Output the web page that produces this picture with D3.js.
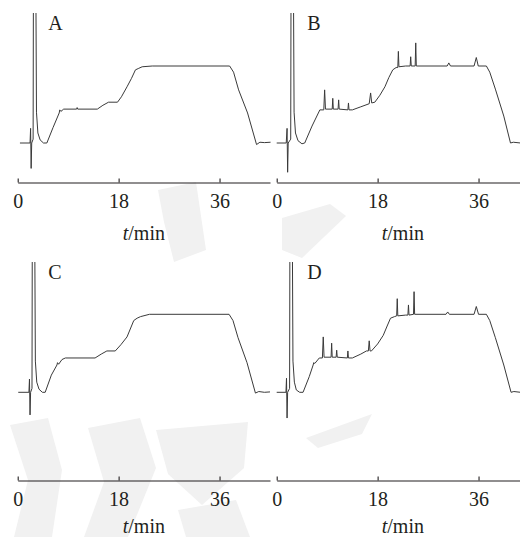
<!DOCTYPE html>
<html>
<head>
<meta charset="utf-8">
<script src="https://cdn.jsdelivr.net/npm/d3@7"></script>
<style>
  body { margin: 0; background: #fff; }
  svg { display: block; }
  text { font-family: "Liberation Serif", "Times New Roman", serif; fill: #231f20; }
  .trace { fill: none; stroke: #3a3a3a; stroke-width: 1; stroke-linejoin: round; }
  .axis path, .axis line { stroke: #231f20; stroke-width: 1.1; }
  .wm { fill: #f1f1f1; stroke: none; }
</style>
</head>
<body>
<div id="chart"></div>
<script>
// DATA  (time in min, signal in relative units: baseline = 0, high plateau = 100)
timeTicks = [0, 18, 36];
panelNames = ["A", "B", "C", "D"];

traceA = [[0.4,0],[2.2,0],[2.3,19],[2.4,-33],[2.5,0],[2.75,5],[2.82,260],[3.2,260],[3.35,40],[3.6,13],[4.0,4],[4.6,0],[5.2,0],
  [6.3,20],[7.4,39],[7.5,43],[7.7,41],[8.2,44],[10.5,44],[10.6,46],[10.7,44],[14.2,44],[15.2,49],[16.2,53],[17.8,53],
  [18.5,60],[19.5,73],[20.3,84],[21.0,95],[21.6,97],[22.2,99],[24,100],[37.8,100],[38.5,92],[39.4,69],[41,39],[42.6,-2],
  [43.2,1],[44,0.5],[45.1,1]];

traceB = [[0,0],[1.7,0],[1.85,19],[1.95,-38],[2.05,0],[2.5,5],[2.57,260],[2.95,260],[3.1,40],[3.35,13],[3.8,3],[4.5,-1],[5.0,0],
  [6.3,22],[7.7,43],[8.4,43],[8.55,69],[8.7,44],[9.9,44],[10.0,58],[10.1,44],[10.95,44],[11.05,56],[11.15,44],[12.7,43],
  [12.8,52],[12.9,43],[13.5,43],[15.0,47],[16.5,51],[16.75,65],[16.95,52],[17.5,53],[18.4,62],[19.3,73],[20.0,85],[20.7,95],
  [21.3,98],[21.6,98],[21.7,119],[21.8,99],[23.0,100],[23.8,100],[23.9,112],[24.0,100],[24.7,100],[24.8,130],[24.9,100],
  [30.4,100],[30.7,104],[31.0,100],[35.2,100],[35.6,111],[35.95,100],[37.4,100],[38.0,92],[39.0,70],[40.5,35],[41.7,0],
  [42.2,1],[43.5,0]];

traceC = [[0.1,0],[2.0,0],[2.1,17],[2.2,-29],[2.3,0],[2.55,5],[2.62,260],[3.0,260],[3.15,40],[3.4,13],[3.8,4],[4.4,0],[4.9,0],
  [6.0,22],[7.0,35],[7.1,38],[7.3,36],[7.9,42],[8.5,44],[13.8,44],[14.9,49],[15.9,53],[17.4,53],[18.4,61],[19.5,71],
  [20.7,92],[21.3,95],[21.9,97],[23.5,100],[37.7,100],[38.4,92],[39.3,70],[40.9,38],[42.4,-1],[43,1],[44,0],[45,0.5]];

traceD = [[0,0],[1.65,0],[1.75,18],[1.85,-33],[1.95,0],[2.3,5],[2.37,260],[2.75,260],[2.9,40],[3.15,13],[3.5,3],[4.1,0],[4.7,0],
  [5.8,20],[6.5,35],[6.6,38],[6.8,37],[7.6,44],[8.15,44],[8.3,71],[8.45,45],[9.7,45],[9.8,63],[9.9,45],[10.6,45],[10.7,54],
  [10.8,45],[12.6,44],[12.7,53],[12.8,44],[13.5,44],[15.0,49],[16.0,53],[16.35,53],[16.5,66],[16.65,53],[16.9,53],[18.0,62],
  [19.0,73],[19.7,85],[20.3,95],[21.0,97],[21.4,98],[21.5,120],[21.6,98],[23.0,99],[23.4,99],[23.5,112],[23.6,99],[24.4,100],
  [24.5,129],[24.6,100],[30.2,100],[30.5,103],[30.8,100],[35.2,100],[35.6,110],[36.0,100],[37.4,100],[38.0,92],[39.0,70],
  [40.5,35],[41.8,0],[42.3,1],[43.5,0]];

traces = [traceA, traceB, traceC, traceD];

// LAYOUT
W = 520; H = 537;
cols = [17.7, 276.7];               // x of t = 0
axisLen = 252.3;                    // 0..45 min
rows = [
  {top: 13,  plateau: 66,    base: 143,   axis: 182.5, title: 240},
  {top: 262, plateau: 314.3, base: 392.3, axis: 480.5, title: 533}
];

svg = d3.select("#chart").append("svg")
    .attr("width", W)
    .attr("height", H);

defs = svg.append("defs");

// FAINT BACKGROUND WATERMARK (decoration only)
wmShapes = [
  "M10,425 L48,418 L62,470 L52,537 L14,537 L28,480 Z",
  "M88,428 L140,418 L156,468 L128,537 L84,537 L104,482 Z",
  "M156,430 L248,422 L244,468 L202,505 L168,474 Z",
  "M178,510 L236,500 L250,537 L186,537 Z",
  "M306,438 L372,414 L362,434 L318,448 Z",
  "M158,190 L196,182 L206,250 L174,262 L164,222 Z",
  "M282,218 L330,204 L346,216 L302,258 L282,250 Z"
];
svg.append("g").selectAll("path")
  .data(wmShapes)
  .enter()
  .append("path")
    .attr("class", "wm")
    .attr("d", function(d) { return d; });

panelNames.forEach(function(name, i) {
  col = cols[i % 2];
  row = rows[Math.floor(i / 2)];

  x = d3.scaleLinear().domain([0, 45]).range([col, col + axisLen]);
  y = d3.scaleLinear().domain([0, 100]).range([row.base, row.plateau]);

  // CLIP ABOVE PLOT TOP
  defs.append("clipPath").attr("id", "clip" + name)
    .append("rect")
      .attr("x", col - 5).attr("y", row.top)
      .attr("width", axisLen + 10).attr("height", row.axis - row.top);

  g = svg.append("g").attr("class", "panel");

  line = d3.line()
    .x(function(d) { return x(d[0]); })
    .y(function(d) { return y(d[1]); });

  g.append("path")
    .datum(traces[i])
    .attr("class", "trace")
    .attr("clip-path", "url(#clip" + name + ")")
    .attr("d", line);

  // X AXIS (ticks pointing up)
  ax = g.append("g")
    .attr("class", "axis")
    .attr("transform", "translate(0," + row.axis + ")")
    .call(d3.axisBottom(x).tickValues(timeTicks).tickSizeInner(-4).tickSizeOuter(0).tickPadding(11));
  ax.selectAll("text")
    .style("font-size", "20px")
    .style("font-family", "'Liberation Serif', serif")
    .attr("fill", "#231f20");

  // AXIS TITLE
  t = g.append("text")
    .attr("x", col + axisLen / 2)
    .attr("y", row.title)
    .attr("text-anchor", "middle")
    .style("font-size", "20px");
  t.append("tspan").style("font-style", "italic").text("t");
  t.append("tspan").text("/min");

  // PANEL LETTER
  g.append("text")
    .attr("x", col + 30.5)
    .attr("y", row.top + 16.5)
    .style("font-size", "20px")
    .text(name);
});
</script>
</body>
</html>
